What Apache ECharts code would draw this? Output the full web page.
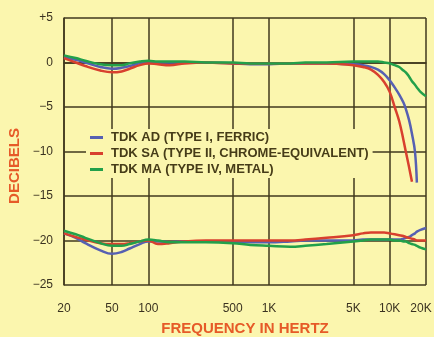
<!DOCTYPE html>
<html>
<head>
<meta charset="utf-8">
<script src="https://cdn.jsdelivr.net/npm/echarts@6/dist/echarts.min.js"></script>
<style>
html,body{margin:0;padding:0;background:#fbf6ae;}
#main{width:434px;height:337px;}
</style>
</head>
<body>
<div id="main"></div>
<script>
var freqs = [20, 25, 30, 40, 50, 60, 70, 85, 100, 120, 150, 200, 300, 500, 700, 1000, 1500, 2000, 3000, 5000,
    6000, 7000, 8000, 9000, 10000, 11000, 12000, 13000, 13600, 14500, 15300, 16200, 16800, 18000, 20000];

// 0 dB recording level
var adTop = [0.6, 0.3, 0, -0.5, -0.7, -0.6, -0.4, -0.1, 0.1, 0, 0, 0, 0, -0.1, -0.2, -0.2, -0.1, -0.1, -0.1, -0.2,
    -0.3, -0.5, -0.8, -1.3, -2, -2.8, -3.6, -4.5, -5.2, -6.5, -8, -10, -13.5, null, null];
var saTop = [0.5, 0, -0.4, -0.9, -1.1, -1.0, -0.7, -0.3, -0.1, -0.2, -0.3, -0.1, 0, -0.1, -0.1, -0.1, -0.1, -0.1, -0.1, -0.3,
    -0.5, -0.8, -1.4, -2.2, -3.3, -5, -6.6, -8.7, -10, -11.8, -13.4, null, null, null, null];
var maTop = [0.8, 0.5, 0.2, -0.2, -0.3, -0.3, -0.1, 0.1, 0.2, 0.1, 0.1, 0.1, 0, 0, -0.1, -0.1, -0.1, 0, 0, 0.1,
    0.1, 0.1, 0.1, 0, -0.1, -0.3, -0.5, -0.9, -1.1, -1.6, -2.1, -2.5, -2.8, -3.3, -3.8];

// -20 dB recording level
var adLow = [-19.2, -19.7, -20.3, -21.1, -21.5, -21.3, -20.9, -20.4, -20.1, -20.1, -20.2, -20.1, -20.1, -20.2, -20.2, -20.2, -20.1, -20, -20, -20,
    -19.9, -19.9, -19.9, -19.9, -19.9, -19.9, -19.9, -19.8, -19.7, -19.6, -19.4, -19.2, -19, -18.8, -18.6];
var saLow = [-19.2, -19.6, -19.9, -20.3, -20.4, -20.4, -20.3, -20.1, -20, -20.4, -20.3, -20.1, -20, -20, -20, -20, -20, -19.9, -19.7, -19.4,
    -19.2, -19.1, -19.1, -19.1, -19.2, -19.3, -19.4, -19.5, -19.6, -19.7, -19.8, -19.9, -20, -20, -20];
var maLow = [-18.9, -19.3, -19.7, -20.3, -20.6, -20.6, -20.4, -20.1, -19.9, -20, -20.2, -20.2, -20.2, -20.3, -20.5, -20.6, -20.7, -20.6, -20.4, -20.1,
    -20, -19.9, -19.9, -19.9, -19.9, -20, -20, -20.1, -20.1, -20.3, -20.4, -20.5, -20.6, -20.8, -21];

var xTicks = [20, 50, 100, 500, 1000, 5000, 10000, 20000];
var names = ['TDK AD (TYPE I, FERRIC)', 'TDK SA (TYPE II, CHROME-EQUIVALENT)', 'TDK MA (TYPE IV, METAL)'];
var colors = ['#5660b2', '#d8402e', '#22a04a'];

function pairs(vals) {
    return freqs.map(function (f, i) { return vals[i] == null ? null : [f, vals[i]]; }).filter(function (p) { return p; });
}

var myChart = echarts.init(document.getElementById('main'));

var gridColor = '#40381e';
var textFont = 'Liberation Sans';

function line(name, vals, color) {
    return {
        name: name,
        type: 'line',
        smooth: 0.4,
        showSymbol: false,
        data: pairs(vals),
        lineStyle: { color: color, width: 2.5 },
        itemStyle: { color: color }
    };
}

var series = [
    line(names[0], adTop, colors[0]),
    line(names[1], saTop, colors[1]),
    line(names[2], maTop, colors[2]),
    line(names[0], adLow, colors[0]),
    line(names[1], saLow, colors[1]),
    line(names[2], maLow, colors[2])
];
// vertical grid lines at the labelled frequencies
series[0].markLine = {
    silent: true,
    symbol: 'none',
    label: { show: false },
    lineStyle: { color: gridColor, width: 1.5, type: 'solid' },
    z: 1,
    data: xTicks.map(function (f) { return { xAxis: f }; })
};

var option = {
    backgroundColor: '#fbf6ae',
    animation: false,
    grid: { left: 64, right: 8, top: 18, bottom: 52, outerBoundsMode: 'none', containLabel: false },
    legend: {
        data: names,
        orient: 'vertical',
        left: 86,
        top: 129,
        itemGap: 3,
        itemWidth: 13,
        itemHeight: 3,
        icon: 'rect',
        backgroundColor: '#fbf6ae',
        padding: [2, 4, 2, 4],
        textStyle: { fontFamily: textFont, fontSize: 13, fontWeight: 'bold', color: '#463c18', padding: [0, 0, 0, 3] }
    },
    xAxis: {
        type: 'log',
        min: 20,
        max: 20000,
        name: 'FREQUENCY IN HERTZ',
        nameLocation: 'middle',
        nameGap: 36,
        nameTextStyle: { fontFamily: textFont, fontSize: 15, fontWeight: 'bold', color: '#e65a28' },
        axisLine: { lineStyle: { color: gridColor, width: 1.5 } },
        axisTick: { show: false, customValues: xTicks },
        axisLabel: {
            customValues: xTicks,
            margin: 18,
            fontFamily: textFont, fontSize: 12, color: '#3a3220',
            formatter: function (v) {
                var s = v >= 1000 ? (v / 1000) + 'K' : String(v);
                return v === 20000 ? '{last|' + s + '}' : s;
            },
            rich: { last: { fontFamily: textFont, fontSize: 12, color: '#3a3220', padding: [0, 10, 0, 0] } }
        },
        splitLine: { show: false }
    },
    yAxis: {
        type: 'value',
        min: -25,
        max: 5,
        interval: 5,
        axisLine: { show: true, lineStyle: { color: gridColor, width: 1.5 } },
        axisTick: { show: false },
        axisLabel: {
            margin: 11,
            fontFamily: textFont, fontSize: 12, color: '#3a3220',
            formatter: function (v) { return v > 0 ? '+' + v : (v < 0 ? '\u2212' + (-v) : '0'); }
        },
        splitLine: { show: true, lineStyle: { color: gridColor, width: 1.5 } }
    },
    graphic: [{
        type: 'text',
        x: 15,
        y: 166,
        rotation: Math.PI / 2,
        style: {
            text: 'DECIBELS',
            fontFamily: textFont, fontSize: 15, fontWeight: 'bold',
            fill: '#e65a28',
            align: 'center',
            verticalAlign: 'middle'
        }
    }],
    series: series
};

myChart.setOption(option);
</script>
</body>
</html>
